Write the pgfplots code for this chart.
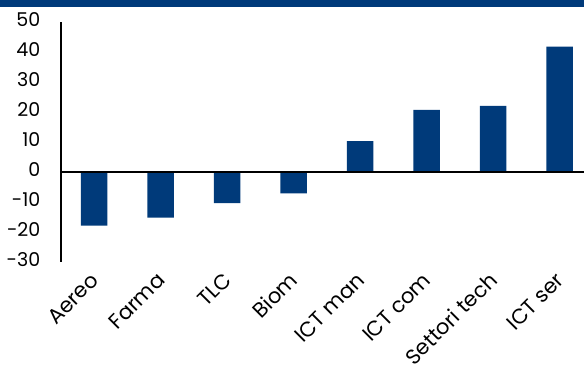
\documentclass[border=0pt]{standalone}
\usepackage{fontspec}
\setmainfont{Poppins}
\usepackage{pgfplots}
\pgfplotsset{compat=1.18}
\definecolor{barblue}{RGB}{0,58,122}
\begin{document}
\begin{tikzpicture}[x=1pt,y=1pt]
\begin{axis}[
  at={(61pt,109pt)}, anchor=south west,
  scale only axis, width=523pt, height=240pt,
  xmin=-0.5, xmax=7.365, ymin=-30, ymax=50,
  ytick={-30,-20,...,50},
  xtick={0,...,7},
  xticklabels={Aereo,Farma,TLC,Biom,ICT man,ICT com,Settori tech,ICT ser},
  axis y line=left, axis x line=bottom,
  x axis line style={draw=none},
  y axis line style={line width=1.6pt, -},
  tick style={draw=none},
  /pgf/number format/assume math mode=true,
  tick label style={text=black},
  yticklabel style={font=\fontsize{19}{21}\selectfont, anchor=east, xshift=-15pt},
  xticklabel style={font=\fontsize{21}{23}\selectfont, xshift=-6pt, yshift=-6pt, rotate=45, anchor=north east, inner sep=0pt},
  typeset ticklabels with strut,
  clip=false,
]
\addplot[ybar, bar width=26.5pt, fill=barblue, draw=none] coordinates {
(0,-17.9) (1,-15.2) (2,-10.4) (3,-7.1) (4,10.3) (5,20.7) (6,22) (7,41.8)};
\draw[line width=1.6pt] (axis cs:-0.5,0) -- (axis cs:7.365,0);
\end{axis}
\fill[barblue] (0,364) rectangle (584,371);
\pgfresetboundingbox
\useasboundingbox (0,0) rectangle (584,371);
\end{tikzpicture}
\end{document}
